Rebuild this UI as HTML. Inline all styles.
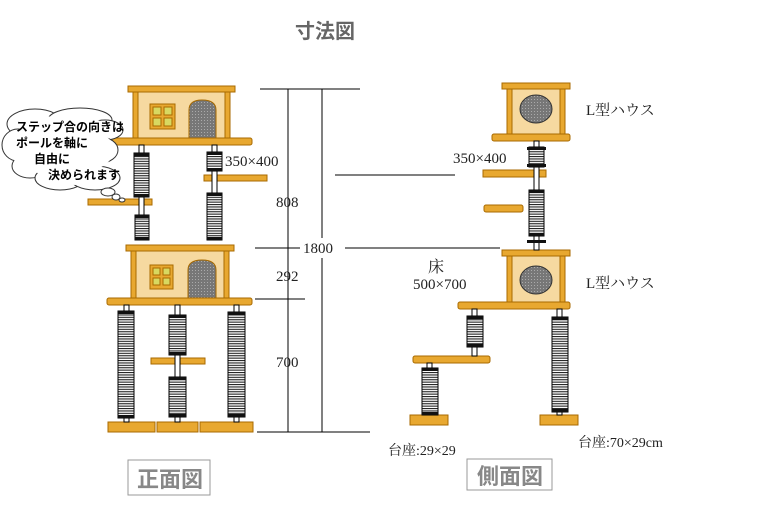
<!DOCTYPE html>
<html><head><meta charset="utf-8"><style>
body{margin:0;background:#fff}
svg{display:block}
text{font-family:"Liberation Serif","Noto Serif CJK SC",serif}
.s{font-family:"Liberation Sans","Noto Sans CJK JP",sans-serif;font-weight:bold}
</style></head><body>
<svg width="765" height="512" viewBox="0 0 765 512" xmlns="http://www.w3.org/2000/svg">
<defs>
<pattern id="st" width="4" height="2.4" patternUnits="userSpaceOnUse"><rect width="4" height="2.4" fill="#fff"/><rect width="4" height="1.1" fill="#222"/></pattern>
<pattern id="gr" width="3" height="3" patternUnits="userSpaceOnUse"><rect width="3" height="3" fill="#777"/><rect width="1" height="1" fill="#aaa"/></pattern>
</defs>
<g stroke="#000" stroke-width="1">
<line x1="260" y1="89" x2="360" y2="89"/>
<line x1="288" y1="89" x2="288" y2="432"/>
<line x1="322" y1="89" x2="322" y2="238"/>
<line x1="322" y1="258" x2="322" y2="432"/>
<line x1="255" y1="248" x2="300" y2="248"/>
<line x1="345" y1="248" x2="500" y2="248"/>
<line x1="255" y1="299" x2="305" y2="299"/>
<line x1="257" y1="432" x2="370" y2="432"/>
<line x1="335" y1="175" x2="455" y2="175"/>
</g>
<g stroke="#a86a00" stroke-width="1">
<rect x="133" y="92" width="97" height="46" fill="#f6d9a0"/>
<rect x="133" y="92" width="5" height="46" fill="#e8a830"/><rect x="225" y="92" width="5" height="46" fill="#e8a830"/>
<rect x="128" y="86" width="107" height="6" fill="#e8a830"/>
<rect x="108" y="138" width="144" height="7" rx="2" fill="#e8a830"/>
<rect x="150" y="104" width="25" height="25" fill="#e8a830"/>
<rect x="153" y="107" width="8" height="8" fill="#d8d860"/><rect x="164" y="107" width="8" height="8" fill="#d8d860"/><rect x="153" y="118" width="8" height="8" fill="#d8d860"/><rect x="164" y="118" width="8" height="8" fill="#d8d860"/>
<path d="M189 138V110Q189 100 202 100Q216 100 216 110V138Z" fill="url(#gr)"/>
<rect x="131" y="251" width="98" height="47" fill="#f6d9a0"/>
<rect x="131" y="251" width="5" height="47" fill="#e8a830"/><rect x="224" y="251" width="5" height="47" fill="#e8a830"/>
<rect x="126" y="245" width="108" height="6" fill="#e8a830"/>
<rect x="107" y="298" width="145" height="7" rx="2" fill="#e8a830"/>
<rect x="150" y="265" width="23" height="24" fill="#e8a830"/>
<rect x="153" y="268" width="7" height="7" fill="#d8d860"/><rect x="163" y="268" width="7" height="7" fill="#d8d860"/><rect x="153" y="278" width="7" height="7" fill="#d8d860"/><rect x="163" y="278" width="7" height="7" fill="#d8d860"/>
<path d="M188 298V270Q188 260 202 260Q216 260 216 270V298Z" fill="url(#gr)"/>
<rect x="88" y="199" width="64" height="6" fill="#e8a830"/>
<rect x="204" y="175" width="63" height="6" fill="#e8a830"/>
<rect x="151" y="358" width="54" height="6" fill="#e8a830"/>
<rect x="108" y="422" width="47" height="10" fill="#e8a830"/>
<rect x="157" y="422" width="41" height="10" fill="#e8a830"/>
<rect x="200" y="422" width="53" height="10" fill="#e8a830"/>
<rect x="507" y="89" width="58" height="46" fill="#f6d9a0"/>
<rect x="507" y="89" width="5" height="46" fill="#e8a830"/><rect x="560" y="89" width="5" height="46" fill="#e8a830"/>
<rect x="502" y="83" width="68" height="6" fill="#e8a830"/>
<rect x="492" y="134" width="78" height="7" rx="2" fill="#e8a830"/>
<rect x="507" y="256" width="58" height="46" fill="#f6d9a0"/>
<rect x="507" y="256" width="5" height="46" fill="#e8a830"/><rect x="560" y="256" width="5" height="46" fill="#e8a830"/>
<rect x="502" y="250" width="68" height="6" fill="#e8a830"/>
<rect x="458" y="302" width="112" height="7" rx="2" fill="#e8a830"/>
<rect x="483" y="170" width="63" height="7" fill="#e8a830"/>
<rect x="484" y="205" width="39" height="7" rx="2" fill="#e8a830"/>
<rect x="413" y="356" width="77" height="7" rx="2" fill="#e8a830"/>
<rect x="410" y="415" width="38" height="10" fill="#e8a830"/>
<rect x="540" y="415" width="38" height="10" fill="#e8a830"/>
</g>
<ellipse cx="536" cy="109" rx="16" ry="14" fill="url(#gr)" stroke="#333"/>
<ellipse cx="536" cy="280" rx="16" ry="14" fill="url(#gr)" stroke="#333"/>
<g stroke="#000" stroke-width="1">
<g fill="#fff">
<rect x="139" y="145" width="5" height="70"/><rect x="212" y="145" width="5" height="95"/>
<rect x="124" y="305" width="5" height="117"/><rect x="175" y="305" width="5" height="117"/><rect x="234" y="305" width="5" height="117"/>
<rect x="534" y="141" width="5" height="109"/>
<rect x="472" y="309" width="5" height="47"/><rect x="427" y="363" width="5" height="52"/><rect x="557" y="309" width="5" height="106"/>
</g>
<g fill="url(#st)">
<rect x="134" y="153" width="15" height="44"/><rect x="135" y="215" width="14" height="25"/>
<rect x="207" y="152" width="15" height="19"/><rect x="207" y="193" width="15" height="47"/>
<rect x="118" y="311" width="16" height="107"/><rect x="169" y="315" width="17" height="40"/><rect x="169" y="377" width="17" height="40"/><rect x="228" y="312" width="17" height="105"/>
<rect x="529" y="147" width="15" height="20"/><rect x="529" y="190" width="15" height="46"/>
<rect x="467" y="316" width="16" height="31"/><rect x="422" y="368" width="16" height="47"/><rect x="552" y="317" width="16" height="95"/>
</g>
<g fill="#111" stroke="none">
<rect x="134" y="153" width="15" height="3"/><rect x="134" y="194" width="15" height="3"/><rect x="135" y="215" width="14" height="3"/><rect x="135" y="237" width="14" height="3"/>
<rect x="207" y="152" width="15" height="3"/><rect x="207" y="168" width="15" height="3"/><rect x="207" y="193" width="15" height="3"/><rect x="207" y="237" width="15" height="3"/>
<rect x="118" y="311" width="16" height="3"/><rect x="118" y="415" width="16" height="3"/><rect x="169" y="315" width="17" height="3"/><rect x="169" y="352" width="17" height="3"/><rect x="169" y="377" width="17" height="3"/><rect x="169" y="414" width="17" height="3"/><rect x="228" y="312" width="17" height="3"/><rect x="228" y="414" width="17" height="3"/>
<rect x="527" y="147" width="19" height="3"/><rect x="527" y="164" width="19" height="3"/><rect x="529" y="190" width="15" height="3"/><rect x="529" y="233" width="15" height="3"/><rect x="527" y="240" width="19" height="3"/>
<rect x="467" y="316" width="16" height="3"/><rect x="467" y="344" width="16" height="3"/><rect x="422" y="368" width="16" height="3"/><rect x="422" y="412" width="16" height="3"/><rect x="552" y="317" width="16" height="3"/><rect x="552" y="409" width="16" height="3"/>
</g>
</g>
<g fill="#fff" stroke="#333" stroke-width="1">
<ellipse cx="35" cy="124" rx="28" ry="15"/><ellipse cx="80" cy="120" rx="32" ry="12"/><ellipse cx="105" cy="130" rx="18" ry="10"/><ellipse cx="18" cy="145" rx="16" ry="16"/><ellipse cx="100" cy="150" rx="18" ry="13"/><ellipse cx="30" cy="166" rx="18" ry="12"/><ellipse cx="60" cy="178" rx="25" ry="12"/><ellipse cx="95" cy="178" rx="25" ry="12"/>
<ellipse cx="108" cy="192" rx="7" ry="4"/><ellipse cx="116" cy="197" rx="4" ry="3"/><ellipse cx="122" cy="200" rx="3" ry="2"/>
</g>
<g fill="#fff" stroke="none"><ellipse cx="62" cy="150" rx="52" ry="26"/><ellipse cx="78" cy="176" rx="38" ry="9"/><ellipse cx="62" cy="126" rx="44" ry="10"/></g>
<g font-size="12" fill="#000">
<text x="16" y="131" class="s">ステップ合の向きは</text>
<text x="16" y="147" class="s">ポールを軸に</text>
<text x="34" y="163" class="s">自由に</text>
<text x="48" y="179" class="s">決められます</text>
</g>
<text x="295" y="38" class="s" font-size="20" fill="#666">寸法図</text>
<g font-size="15" fill="#222">
<text x="225" y="166">350×400</text>
<text x="453" y="163">350×400</text>
<text x="276" y="207">808</text>
<text x="276" y="281">292</text>
<text x="276" y="367">700</text>
<text x="303" y="253">1800</text>
<text x="586" y="115">L型ハウス</text>
<text x="586" y="288">L型ハウス</text>
<text x="428" y="272" font-size="16">床</text>
<text x="413" y="289">500×700</text>
<text x="388" y="455" font-size="14">台座:29×29</text>
<text x="578" y="447" font-size="14">台座:70×29cm</text>
</g>
<rect x="128" y="460" width="82" height="35" fill="#fff" stroke="#999"/>
<text x="137" y="487" class="s" font-size="22" fill="#888">正面図</text>
<rect x="467" y="459" width="85" height="31" fill="#fff" stroke="#999"/>
<text x="477" y="484" class="s" font-size="22" fill="#888">側面図</text>
</svg>
</body></html>
